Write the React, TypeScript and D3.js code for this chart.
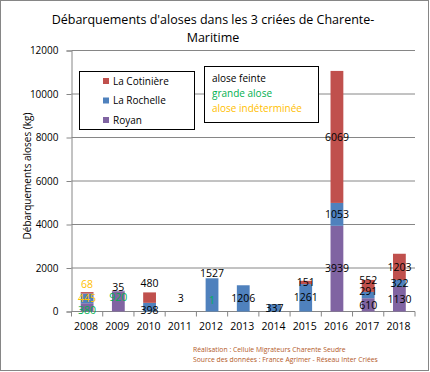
import { useRef, useEffect } from "react";
import * as d3 from "d3";

// years on the x axis
const years = ["2008", "2009", "2010", "2011", "2012", "2013", "2014", "2015", "2016", "2017", "2018"];

// landings (kg) by port and species, stacked bottom -> top in this order
const royanGrandeAlose = [380, 920, 0, 0, 0, 0, 0, 0, 0, 0, 0];
const royanAloseFeinte = [0, 35, 0, 0, 0, 0, 0, 0, 3939, 610, 1130];
const laRochelleIndeterminee = [445, 0, 0, 0, 0, 0, 0, 0, 0, 0, 0];
const laRochelleAloseFeinte = [0, 0, 398, 0, 1527, 1206, 337, 1261, 1053, 291, 322];
const laRochelleGrandeAlose = [0, 0, 0, 0, 1, 0, 0, 0, 0, 0, 0];
const cotiniereIndeterminee = [68, 0, 0, 0, 0, 0, 0, 0, 0, 0, 0];
const cotiniereAloseFeinte = [0, 0, 480, 3, 0, 0, 0, 151, 6069, 552, 1203];

const yTicks = [0, 2000, 4000, 6000, 8000, 10000, 12000];

const ports = ["La Cotinière", "La Rochelle", "Royan"];
const species = ["alose feinte", "grande alose", "alose indéterminée"];

const portColor: Record<string, string> = {
  "La Cotinière": "#C0504D",
  "La Rochelle": "#4F81BD",
  Royan: "#8064A2",
};
const speciesColor: Record<string, string> = {
  "alose feinte": "#000000",
  "grande alose": "#00B050",
  "alose indéterminée": "#FFC000",
};

const series = [
  { key: "rg", port: "Royan", species: "grande alose", values: royanGrandeAlose },
  { key: "rf", port: "Royan", species: "alose feinte", values: royanAloseFeinte },
  { key: "li", port: "La Rochelle", species: "alose indéterminée", values: laRochelleIndeterminee },
  { key: "lf", port: "La Rochelle", species: "alose feinte", values: laRochelleAloseFeinte },
  { key: "lg", port: "La Rochelle", species: "grande alose", values: laRochelleGrandeAlose },
  { key: "ci", port: "La Cotinière", species: "alose indéterminée", values: cotiniereIndeterminee },
  { key: "cf", port: "La Cotinière", species: "alose feinte", values: cotiniereAloseFeinte },
];

// hand-moved data labels in the original (pixels)
const labelNudge: Record<string, number> = {
  "2008|rg": 3,
  "2008|ci": -8,
  "2009|rg": -4,
  "2009|rf": -4,
  "2010|lf": 3,
  "2010|cf": -14,
  "2011|cf": -13,
  "2012|lf": -22,
  "2012|lg": 22,
  "2017|lf": -4,
  "2017|cf": -6,
};

const W = 430;
const H = 372;
const FONT = "'Open Sans', 'Noto Sans', sans-serif";

export default function App() {
  const ref = useRef<SVGSVGElement | null>(null);

  useEffect(() => {
    if (!ref.current) return;
    const svg = d3.select(ref.current);
    svg.selectAll("*").remove();

    const left = 71.5;
    const right = 415;
    const top = 50.5;
    const bottom = 311.5;

    svg
      .append("rect")
      .attr("x", 0.5)
      .attr("y", 0.5)
      .attr("width", W - 2)
      .attr("height", H - 2)
      .attr("fill", "#fff")
      .attr("stroke", "#868686");

    // title
    const title = svg
      .append("text")
      .attr("text-anchor", "middle")
      .attr("font-family", FONT)
      .attr("font-size", 12.5)
      .attr("fill", "#000");
    title.append("tspan").attr("x", 213).attr("y", 24).text("Débarquements d'aloses dans les 3 criées de Charente-");
    title.append("tspan").attr("x", 213).attr("y", 42).text("Maritime");

    const x = d3.scaleBand().domain(years).range([left, right]).padding(0);
    const y = d3.scaleLinear().domain([0, 12000]).range([bottom, top]);
    const barW = x.bandwidth() * 0.41;

    // gridlines
    svg
      .append("g")
      .selectAll("line")
      .data(yTicks.filter((t) => t > 0))
      .join("line")
      .attr("x1", left)
      .attr("x2", right)
      .attr("y1", (d) => y(d))
      .attr("y2", (d) => y(d))
      .attr("stroke", "#868686");

    // y axis
    const yAxis = svg
      .append("g")
      .attr("transform", `translate(${left},0)`)
      .call(d3.axisLeft(y).tickValues(yTicks).tickSize(5).tickPadding(8).tickFormat(d3.format("d")));
    yAxis.select(".domain").attr("stroke", "#868686");
    yAxis.selectAll(".tick line").attr("stroke", "#868686");
    yAxis.selectAll("text").attr("font-family", FONT).attr("font-size", 10).attr("fill", "#000");

    // x axis
    const xAxis = svg.append("g").attr("transform", `translate(0,${bottom})`);
    xAxis.append("line").attr("x1", left).attr("x2", right).attr("stroke", "#868686");
    xAxis
      .selectAll("line.tk")
      .data(years)
      .join("line")
      .attr("class", "tk")
      .attr("x1", (d) => (x(d) as number) + x.bandwidth())
      .attr("x2", (d) => (x(d) as number) + x.bandwidth())
      .attr("y1", 0)
      .attr("y2", 5)
      .attr("stroke", "#868686");
    xAxis
      .append("line")
      .attr("x1", left)
      .attr("x2", left)
      .attr("y1", 0)
      .attr("y2", 5)
      .attr("stroke", "#868686");
    xAxis
      .selectAll("text")
      .data(years)
      .join("text")
      .attr("x", (d) => (x(d) as number) + x.bandwidth() / 2 - 1)
      .attr("y", 18)
      .attr("text-anchor", "middle")
      .attr("font-family", FONT)
      .attr("font-size", 10.5)
      .text((d) => d);

    // y axis title
    svg
      .append("text")
      .attr("transform", "translate(31,176) rotate(-90)")
      .attr("text-anchor", "middle")
      .attr("font-family", FONT)
      .attr("font-size", 10)
      .text("Débarquements aloses (kg)");

    // stacked bars
    const rows = years.map((yr, i) => {
      const r: Record<string, number | string> = { year: yr };
      series.forEach((s) => (r[s.key] = s.values[i]));
      return r;
    });
    const stack = d3.stack<Record<string, number | string>>().keys(series.map((s) => s.key));
    const stacked = stack(rows);

    const bars = svg.append("g");
    stacked.forEach((layer, li) => {
      const s = series[li];
      bars
        .append("g")
        .attr("fill", portColor[s.port])
        .selectAll("rect")
        .data(layer)
        .join("rect")
        .attr("x", (d) => (x(d.data.year as string) as number) + x.bandwidth() / 2 - barW / 2)
        .attr("width", barW)
        .attr("y", (d) => y(d[1]))
        .attr("height", (d) => y(d[0]) - y(d[1]));
    });

    // data labels
    const labels = svg.append("g").attr("font-family", FONT).attr("font-size", 10.5).attr("text-anchor", "middle");
    stacked.forEach((layer, li) => {
      const s = series[li];
      labels
        .append("g")
        .attr("fill", speciesColor[s.species])
        .selectAll("text")
        .data(layer.filter((d) => d[1] - d[0] > 0))
        .join("text")
        .attr("x", (d) => (x(d.data.year as string) as number) + x.bandwidth() / 2)
        .attr("y", (d) => y((d[0] + d[1]) / 2) + (labelNudge[`${d.data.year}|${s.key}`] || 0))
        .attr("dy", "0.35em")
        .text((d) => String(d[1] - d[0]));
    });

    // legend: ports
    const lg = svg.append("g").attr("font-family", FONT).attr("font-size", 10);
    lg.append("rect")
      .attr("x", 79.5)
      .attr("y", 71.5)
      .attr("width", 115)
      .attr("height", 58)
      .attr("fill", "#fff")
      .attr("stroke", "#000");
    ports.forEach((p, i) => {
      const cy = 81 + i * 19.5;
      lg.append("rect").attr("x", 103).attr("y", cy - 3).attr("width", 6).attr("height", 6).attr("fill", portColor[p]);
      lg.append("text").attr("x", 113).attr("y", cy).attr("dy", "0.35em").text(p);
    });

    // legend: species (label colours)
    lg.append("rect")
      .attr("x", 204.5)
      .attr("y", 66.5)
      .attr("width", 114)
      .attr("height", 56)
      .attr("fill", "#fff")
      .attr("stroke", "#000");
    species.forEach((sp, i) => {
      lg.append("text")
        .attr("x", 212)
        .attr("y", 78 + i * 15.3)
        .attr("dy", "0.35em")
        .attr("fill", speciesColor[sp])
        .text(sp);
    });

    // footer
    const ft = svg.append("g").attr("font-family", FONT).attr("font-size", 6.8).attr("fill", "#B35A1F");
    ft.append("text").attr("x", 193).attr("y", 350).attr("dy", "0.35em").text("Réalisation : Cellule Migrateurs Charente Seudre");
    ft.append("text")
      .attr("x", 193)
      .attr("y", 360)
      .attr("dy", "0.35em")
      .text("Source des données  : France Agrimer - Réseau Inter Criées");
  }, []);

  return (
    <div style={{ position: "absolute", left: 0, top: 0 }}>
      <svg ref={ref} width={W} height={H} style={{ display: "block" }} />
    </div>
  );
}
